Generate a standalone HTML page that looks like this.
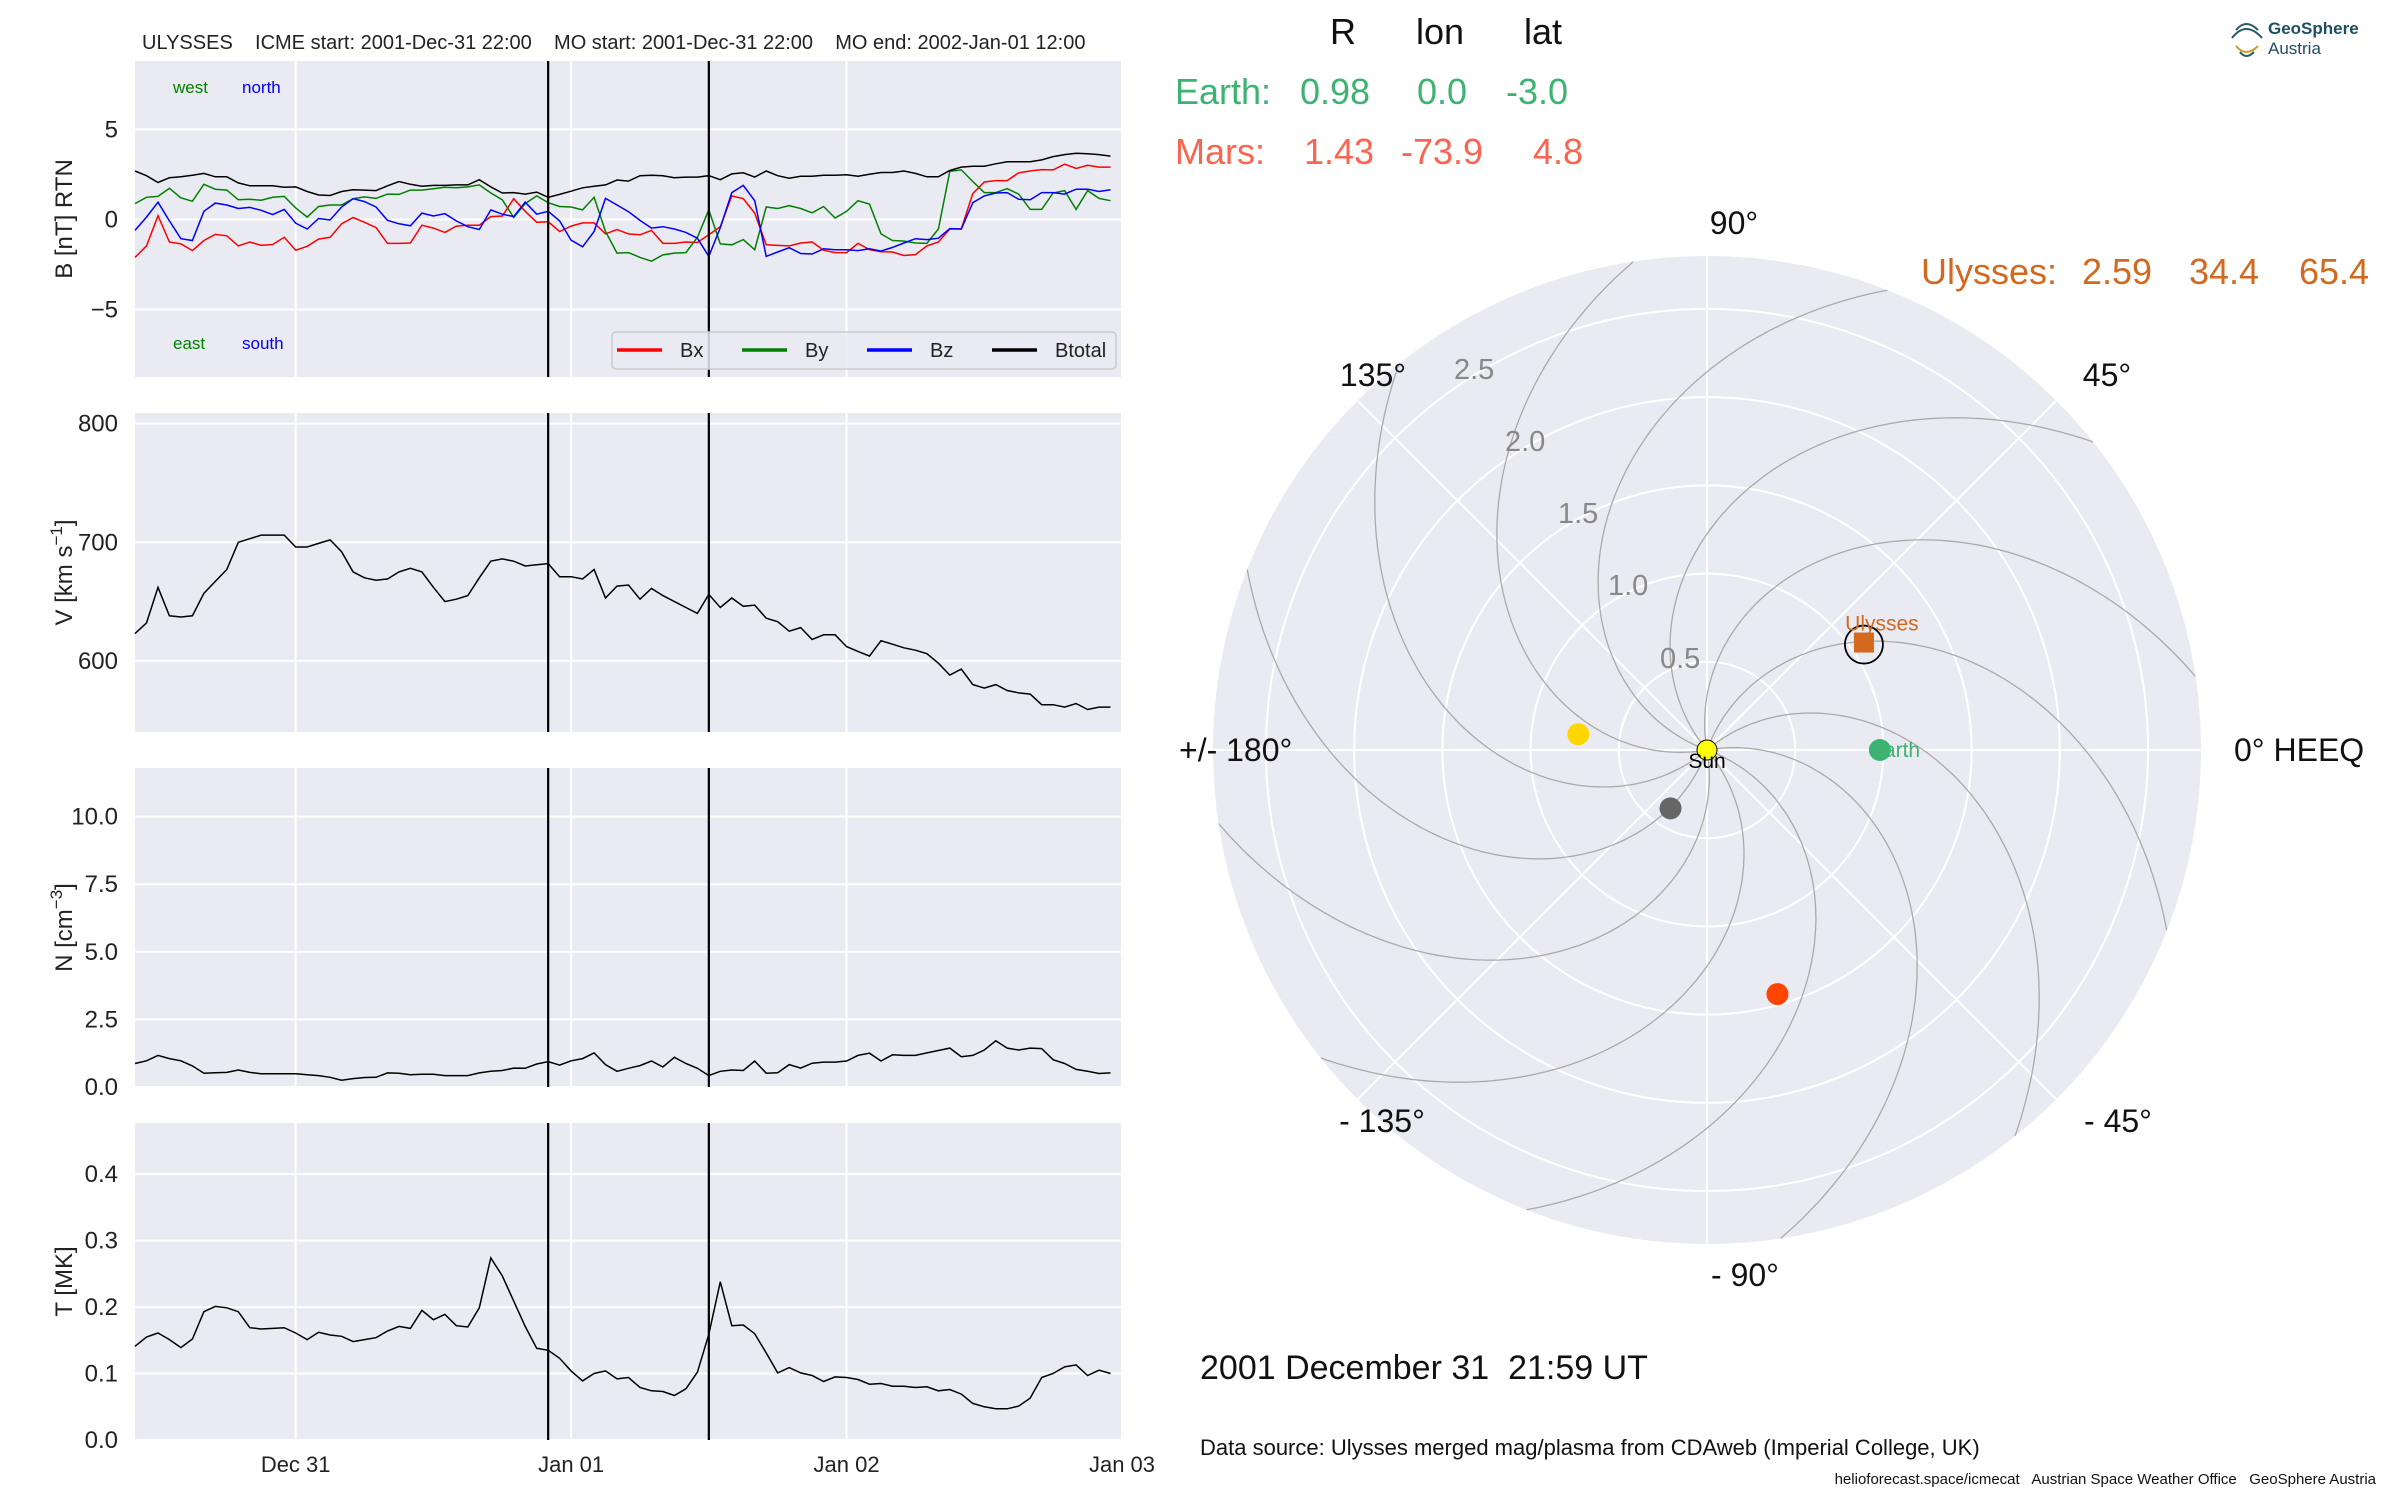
<!DOCTYPE html>
<html><head><meta charset="utf-8">
<style>
html,body{margin:0;padding:0;background:#fff;}
svg{display:block;font-family:"Liberation Sans",Arial,sans-serif;}
svg text{white-space:pre;}
</style></head>
<body>
<svg id="fig" width="2400" height="1500" viewBox="0 0 2400 1500" xmlns="http://www.w3.org/2000/svg" xml:space="preserve">
<text x="142" y="49" font-size="20" fill="#222">ULYSSES    ICME start: 2001-Dec-31 22:00    MO start: 2001-Dec-31 22:00    MO end: 2002-Jan-01 12:00</text>
<g id="ts"></g>
<g id="polar"></g>
<g font-size="36">
<text x="1343" y="44" text-anchor="middle" fill="#111">R</text>
<text x="1440" y="44" text-anchor="middle" fill="#111">lon</text>
<text x="1543" y="44" text-anchor="middle" fill="#111">lat</text>
<text y="104" fill="#3cb371"><tspan x="1175">Earth:</tspan><tspan x="1300">0.98</tspan><tspan x="1417">0.0</tspan><tspan x="1506">-3.0</tspan></text>
<text y="164" fill="#fa6450"><tspan x="1175">Mars:</tspan><tspan x="1304">1.43</tspan><tspan x="1401">-73.9</tspan><tspan x="1533">4.8</tspan></text>
<text y="284" fill="#d2691e"><tspan x="1921">Ulysses:</tspan><tspan x="2082">2.59</tspan><tspan x="2189">34.4</tspan><tspan x="2299">65.4</tspan></text>
</g>
<text x="1200" y="1379" font-size="34" fill="#111">2001 December 31  21:59 UT</text>
<text x="1200" y="1455" font-size="22" fill="#111">Data source: Ulysses merged mag/plasma from CDAweb (Imperial College, UK)</text>
<text x="2376" y="1484" font-size="15" text-anchor="end" fill="#111">helioforecast.space/icmecat   Austrian Space Weather Office   GeoSphere Austria</text>
<g>
<g fill="none" stroke="#2a5a6a" stroke-width="2">
<path d="M2236 30 q10 -12 22 0" /><path d="M2232 38 q14 -18 30 0"/><path d="M2236 46 q10 12 22 0" stroke="#c8a020"/><path d="M2240 52 q6 8 14 0"/>
</g>
<text x="2268" y="34" font-size="17" font-weight="bold" fill="#1f4e60">GeoSphere</text>
<text x="2268" y="54" font-size="17" fill="#1f4e60">Austria</text>
</g>
</svg>
<script>
// ---------- time-series data (hourly from 2001-12-30 10:00 UT) ----------
const bx=[-2.11,-1.47,0.21,-1.25,-1.36,-1.73,-1.17,-0.83,-0.91,-1.47,-1.25,-1.44,-1.39,-0.99,-1.71,-1.49,-1.09,-0.99,-0.24,0.11,-0.16,-0.45,-1.33,-1.33,-1.31,-0.32,-0.48,-0.72,-0.37,-0.32,-0.32,0.16,0.19,1.15,0.45,-0.16,-0.13,-0.67,-0.37,-0.19,-0.19,-0.8,-0.56,-0.8,-0.85,-0.61,-1.33,-1.33,-1.25,-1.28,-0.85,-0.4,1.31,1.15,0.35,-1.41,-1.44,-1.47,-1.31,-1.25,-1.71,-1.84,-1.84,-1.33,-1.68,-1.79,-1.81,-2.0,-1.95,-1.47,-1.25,-0.53,-0.53,1.44,2.08,2.16,2.16,2.59,2.69,2.77,2.75,3.07,2.83,3.01,2.91,2.91];
const by=[0.88,1.23,1.28,1.73,1.2,1.01,1.95,1.68,1.63,1.09,1.12,1.07,1.23,1.28,0.64,0.13,0.72,0.8,0.8,1.15,1.25,1.17,1.41,1.39,1.63,1.63,1.71,1.79,1.76,1.81,1.92,1.47,1.09,0.11,0.88,1.31,0.93,0.72,0.69,0.53,1.23,-0.67,-1.87,-1.84,-2.11,-2.32,-1.97,-1.87,-1.84,-0.99,0.53,-1.36,-1.41,-1.12,-1.68,0.69,0.61,0.77,0.61,0.37,0.72,0.08,0.45,1.04,0.85,-0.8,-1.17,-1.2,-1.31,-1.33,-0.53,2.67,2.75,2.11,1.49,1.49,1.71,1.41,0.56,0.56,1.47,1.6,0.56,1.6,1.17,1.04];
const bz=[-0.61,0.13,0.96,-0.08,-1.07,-1.17,0.45,0.91,0.8,0.61,0.67,0.51,0.27,0.56,-0.21,-0.53,0.05,-0.03,0.69,1.15,0.99,0.69,-0.05,-0.24,-0.35,0.35,0.19,0.32,-0.08,-0.4,-0.56,0.53,0.29,0.16,0.96,0.29,0.45,-0.08,-1.15,-1.52,-0.67,1.17,0.8,0.43,-0.05,-0.48,-0.4,-0.53,-0.72,-1.04,-2.05,-0.45,1.49,1.89,1.04,-2.05,-1.81,-1.57,-1.89,-1.92,-1.63,-1.68,-1.68,-1.73,-1.63,-1.76,-1.55,-1.31,-1.07,-1.12,-1.04,-0.51,-0.53,0.93,1.31,1.47,1.49,1.12,1.09,1.49,1.49,1.41,1.68,1.68,1.55,1.65];
const bt=[2.69,2.43,2.05,2.32,2.37,2.45,2.56,2.37,2.37,2.03,1.87,1.87,1.87,1.79,1.81,1.55,1.36,1.33,1.55,1.65,1.63,1.6,1.87,2.11,1.95,1.84,1.89,1.89,1.92,1.92,2.21,1.81,1.47,1.49,1.41,1.52,1.23,1.39,1.57,1.76,1.84,1.92,2.19,2.13,2.43,2.45,2.43,2.32,2.35,2.35,2.43,2.21,2.53,2.59,2.35,2.69,2.43,2.29,2.4,2.4,2.45,2.45,2.48,2.4,2.51,2.61,2.61,2.69,2.56,2.37,2.37,2.72,2.91,2.96,2.96,3.09,3.2,3.2,3.2,3.31,3.49,3.6,3.68,3.65,3.6,3.52];
const vel=[623,632,662,638,637,638,657,667,677,700,703,706,706,706,696,696,699,702,692,675,670,668,669,675,678,675,662,650,652,655,670,684,686,684,680,681,682,671,671,669,677,653,663,664,652,661,655,650,645,640,656,645,653,646,647,636,633,625,628,618,622,622,612,608,604,617,614,611,609,606,598,588,593,580,577,580,575,573,572,563,563,561,564,559,561,561];
const dens=[0.87,0.97,1.17,1.05,0.97,0.78,0.51,0.53,0.54,0.63,0.54,0.49,0.49,0.49,0.49,0.45,0.42,0.36,0.25,0.31,0.35,0.36,0.52,0.51,0.45,0.47,0.47,0.42,0.42,0.42,0.52,0.58,0.61,0.7,0.69,0.85,0.94,0.81,0.97,1.05,1.26,0.83,0.58,0.69,0.79,0.96,0.74,1.1,0.87,0.69,0.42,0.58,0.63,0.61,0.96,0.51,0.53,0.83,0.7,0.88,0.92,0.92,0.96,1.17,1.25,0.96,1.19,1.17,1.17,1.26,1.35,1.44,1.12,1.17,1.37,1.71,1.44,1.37,1.44,1.42,1.01,0.87,0.65,0.58,0.5,0.52];
const temp=[0.141,0.155,0.161,0.151,0.139,0.152,0.193,0.201,0.199,0.193,0.169,0.167,0.168,0.169,0.161,0.151,0.162,0.158,0.156,0.148,0.151,0.154,0.164,0.171,0.168,0.195,0.181,0.189,0.172,0.17,0.199,0.274,0.247,0.209,0.171,0.138,0.135,0.123,0.104,0.089,0.1,0.104,0.092,0.094,0.079,0.074,0.073,0.067,0.077,0.102,0.159,0.238,0.172,0.173,0.16,0.131,0.101,0.109,0.101,0.097,0.088,0.095,0.094,0.091,0.084,0.085,0.081,0.081,0.079,0.08,0.074,0.076,0.069,0.055,0.05,0.047,0.047,0.051,0.063,0.094,0.1,0.11,0.113,0.097,0.105,0.1];
const eventHours=[36,50];          // ICME/MO start, MO end (hours since start)
const xTickHours=[14,38,62,86];
const xTickLabels=["Dec 31","Jan 01","Jan 02","Jan 03"];
const bTicks=[-5,0,5], vTicks=[600,700,800], nTicks=[0,2.5,5,7.5,10], tTicks=[0,0.1,0.2,0.3,0.4];
const nTickLabels=["0.0","2.5","5.0","7.5","10.0"], tTickLabels=["0.0","0.1","0.2","0.3","0.4"];

// ---------- polar data ----------
const bodyNames=["Sun","Mercury","Venus","Earth","Mars","Ulysses"];
const bodyR=[0,0.39,0.735,0.98,1.44,1.078];
const bodyLon=[0,-122,173,0,-73.9,34.4];
const bodyColors=["#ffff00","#666666","#ffd700","#3cb371","#ff4500","#d2691e"];
const ringValues=[0.5,1.0,1.5,2.0,2.5];
const angleLabels=["0° HEEQ","45°","90°","135°","+/- 180°","- 135°","- 90°","- 45°"];
const angleDegs=[0,45,90,135,180,-135,-90,-45];
const spiralStarts=[10,40,70,100,130,160,190,220,250,280,310,340];

const NS="http://www.w3.org/2000/svg";
function mk(tag,attrs,parent){const e=document.createElementNS(NS,tag);for(const k in attrs)e.setAttribute(k,attrs[k]);parent.appendChild(e);return e;}
const ts=document.getElementById('ts');
const X0=135,X1=1122,H0=0,H1=86;
const xs=h=>X0+(h-H0)/(H1-H0)*(X1-X0);

function panel(name,top,bot,ymin,ymax,ticks,tickLabels,ylabel,series,showX){
  const g=mk('g',{},ts);
  
  
  const ys=v=>bot-(v-ymin)/(ymax-ymin)*(bot-top);
  const bg=mk('rect',{x:X0,y:top,width:X1-X0,height:bot-top,fill:'#eaeaf2'},g);
  
  
  xTickHours.forEach(h=>{const l=mk('line',{x1:xs(h),x2:xs(h),y1:top,y2:bot,stroke:'#fff','stroke-width':2},g);
    
    });
  ticks.forEach((t,i)=>{const y=ys(t);
    const l=mk('line',{x1:X0,x2:X1,y1:y,y2:y,stroke:'#fff','stroke-width':2},g);
    
    
    const tx=mk('text',{x:118,y:y+8,'font-size':24,'text-anchor':'end',fill:'#222'},g);
    tx.textContent=tickLabels?tickLabels[i]:String(t).replace('-','−');
    
    });
  series.forEach(s=>{
    const pts=s.data.map((v,i)=>xs(i).toFixed(1)+','+ys(v).toFixed(1)).join(' ');
    const p=mk('polyline',{points:pts,fill:'none',stroke:s.color,'stroke-width':1.5},g);
    
    });
  eventHours.forEach(h=>{const l=mk('line',{x1:xs(h),x2:xs(h),y1:top,y2:bot,stroke:'#000','stroke-width':2.2},g);
    
    });
  const cy=(top+bot)/2;
  const yl=mk('text',{x:0,y:0,'font-size':24,'text-anchor':'middle',fill:'#222',transform:`translate(72,${cy}) rotate(-90)`},g);
  yl.innerHTML=ylabel;
  
  
  if(showX){xTickHours.forEach((h,i)=>{const t=mk('text',{x:xs(h),y:bot+32,'font-size':22,'text-anchor':'middle',fill:'#222'},g);
    t.textContent=xTickLabels[i];
    
    });}
  return {g,ys};
}
const p1=panel('magnetic-field',61,377,-8.75,8.8,bTicks,["−5","0","5"],'B [nT] RTN',
  [{name:'bx',data:bx,color:'#ff0000'},{name:'by',data:by,color:'#008000'},{name:'bz',data:bz,color:'#0000ff'},{name:'btotal',data:bt,color:'#000'}],false);
panel('velocity',413,732,540,809,vTicks,null,'V [km s<tspan dy="-10" font-size="17">−1</tspan><tspan dy="10">]</tspan>',[{name:'velocity',data:vel,color:'#000'}],false);
panel('density',768,1087,0,11.8,nTicks,nTickLabels,'N [cm<tspan dy="-10" font-size="17">−3</tspan><tspan dy="10">]</tspan>',[{name:'density',data:dens,color:'#000'}],false);
panel('temperature',1123,1440,0,0.477,tTicks,tTickLabels,'T [MK]',[{name:'temperature',data:temp,color:'#000'}],true);

// annotations in B panel
[['west',173,93,'#008000'],['north',242,93,'#0000ff'],['east',173,349,'#008000'],['south',242,349,'#0000ff']].forEach(a=>{
  const t=mk('text',{x:a[1],y:a[2],'font-size':17,fill:a[3]},p1.g);t.textContent=a[0];
  
  });
const leg=mk('g',{},p1.g);


mk('rect',{x:612,y:332,width:504,height:37,rx:4,fill:'#eaeaf2','fill-opacity':0.85,stroke:'#cccccc','stroke-width':1.5},leg);
[['Bx','#ff0000',617],['By','#008000',742],['Bz','#0000ff',867],['Btotal','#000',992]].forEach(e=>{
  const ge=mk('g',{},leg);
  
  
  mk('line',{x1:e[2],x2:e[2]+45,y1:350,y2:350,stroke:e[1],'stroke-width':3.5},ge);
  const t=mk('text',{x:e[2]+63,y:357,'font-size':20,fill:'#222'},ge);t.textContent=e[0];});

// ---------- polar plot ----------
const pol=document.getElementById('polar');
const CX=1707,CY=750,RMAX=2.8,RPX=494;
const rp=r=>r/RMAX*RPX;
const P=(r,deg)=>[CX+rp(r)*Math.cos(deg*Math.PI/180),CY-rp(r)*Math.sin(deg*Math.PI/180)];
const disk=mk('circle',{cx:CX,cy:CY,r:RPX,fill:'#eaeaf2'},pol);


ringValues.forEach(r=>{const c=mk('circle',{cx:CX,cy:CY,r:rp(r),fill:'none',stroke:'#fff','stroke-width':2},pol);
  
  });
angleDegs.forEach(a=>{const e=P(RMAX,a);const l=mk('line',{x1:CX,y1:CY,x2:e[0],y2:e[1],stroke:'#fff','stroke-width':2},pol);
  
  });
// Parker spirals (~700 km/s -> ~0.57 rad/AU)
const clip=mk('clipPath',{id:'pc'},pol);mk('circle',{cx:CX,cy:CY,r:RPX},clip);
const wind=0.57*180/Math.PI;
spiralStarts.forEach(s=>{let d='';for(let k=0;k<=140;k++){const r=k*RMAX/140;const p=P(r,s-wind*r);d+=(k?'L':'M')+p[0].toFixed(1)+' '+p[1].toFixed(1);}
  const sp=mk('path',{d,fill:'none',stroke:'#aaaaaa','stroke-width':1.3,'clip-path':'url(#pc)'},pol);
  
  });
// ring labels
[[0.5,1660,668],[1.0,1608,595],[1.5,1558,523],[2.0,1505,451],[2.5,1454,379]].forEach(a=>{
  const t=mk('text',{x:a[1],y:a[2],'font-size':29,fill:'#888'},pol);t.textContent=a[0].toFixed(1);
  
  });
// angle labels
const alPos=[[2234,761,'start'],[2107,386,'middle'],[1734,234,'middle'],[1373,386,'middle'],[1179,761,'start'],[1382,1132,'middle'],[1745,1286,'middle'],[2118,1132,'middle']];
angleLabels.forEach((s,i)=>{const t=mk('text',{x:alPos[i][0],y:alPos[i][1],'font-size':32,'text-anchor':alPos[i][2],fill:'#111'},pol);t.textContent=s;
  
  });
// bodies
bodyNames.forEach((n,i)=>{const p=P(bodyR[i],bodyLon[i]);let e;
  if(n==='Ulysses'){e=mk('rect',{x:p[0]-10,y:p[1]-10,width:20,height:20,fill:bodyColors[i]},pol);
    mk('circle',{cx:p[0],cy:p[1]+2,r:19,fill:'none',stroke:'#000','stroke-width':1.8},pol);}
  else if(n==='Sun'){e=mk('circle',{cx:p[0],cy:p[1],r:10,fill:bodyColors[i],stroke:'#000','stroke-width':1},pol);}
  else e=mk('circle',{cx:p[0],cy:p[1],r:11,fill:bodyColors[i]},pol);
  
  });
const sunP=P(0,0),eP=P(bodyR[3],0),uP=P(bodyR[5],bodyLon[5]);
[['Sun',sunP[0],sunP[1]+18,'#000','middle'],['Earth',eP[0]-10,eP[1]+7,'#3cb371','start'],['Ulysses',uP[0]+18,uP[1]-12,'#d2691e','middle']].forEach(a=>{
  const t=mk('text',{x:a[1],y:a[2],'font-size':21,fill:a[3],'text-anchor':a[4]},pol);t.textContent=a[0];
  
  });
</script>
</body></html>
